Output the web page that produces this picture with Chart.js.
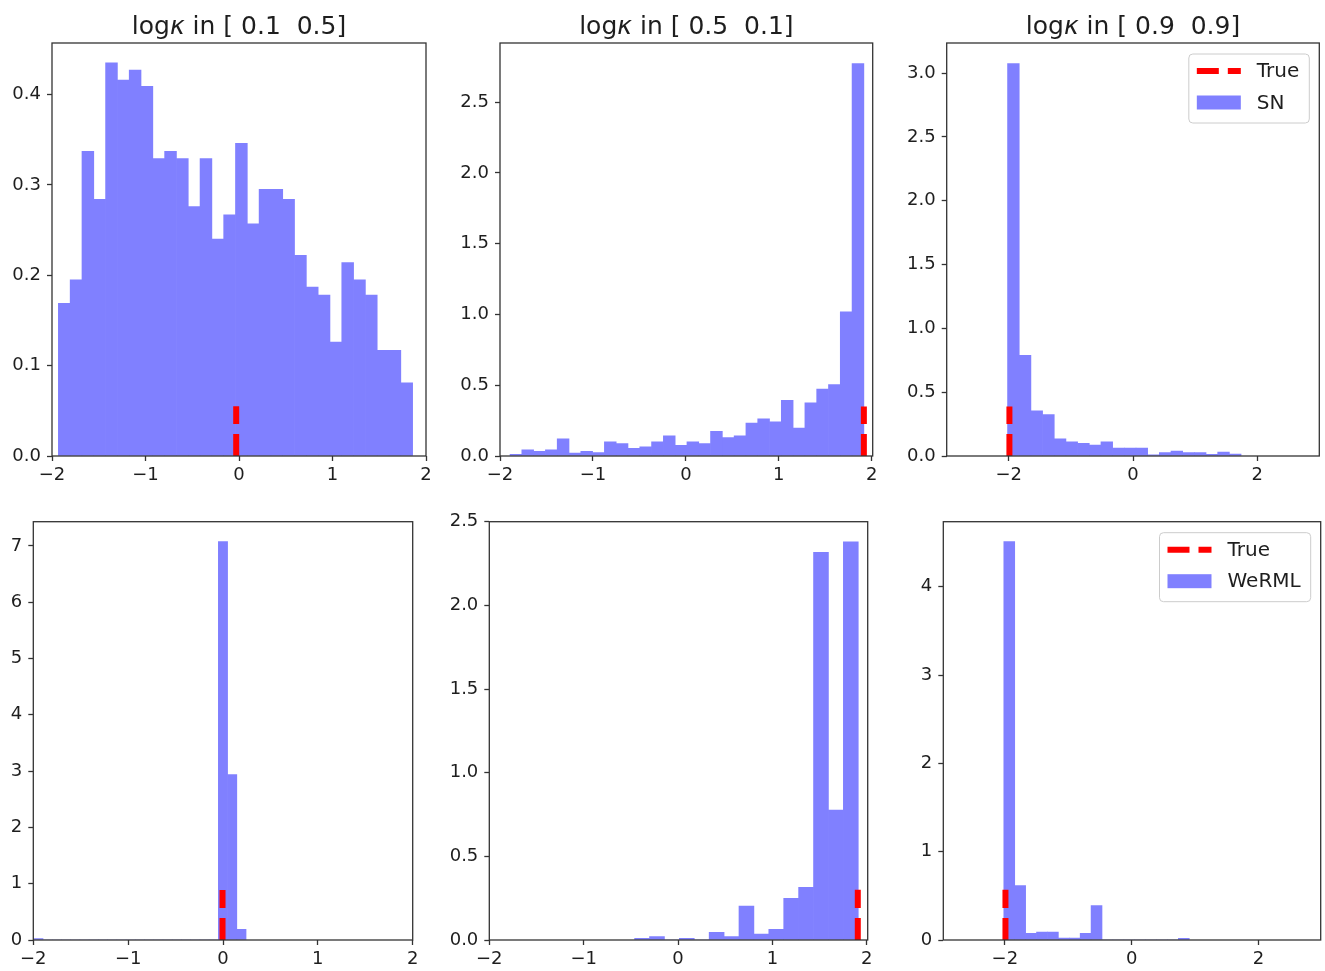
<!DOCTYPE html>
<html>
<head>
<meta charset="utf-8">
<script src="https://cdn.jsdelivr.net/npm/chart.js@4.4.0/dist/chart.umd.min.js"></script>
<style>
  html, body { margin: 0; padding: 0; background: #fff; }
  #wrap { position: relative; width: 1325px; height: 971px; overflow: hidden; }
  #wrap canvas { position: absolute; }
</style>
</head>
<body>
<div id="wrap"></div>
<script>
// histogram densities, one value per bin
const snA = [0.169, 0.195, 0.337, 0.284, 0.435, 0.416, 0.427, 0.409, 0.329, 0.337,
             0.329, 0.276, 0.329, 0.240, 0.267, 0.346, 0.257, 0.295, 0.295, 0.284,
             0.222, 0.187, 0.178, 0.126, 0.214, 0.195, 0.178, 0.117, 0.117, 0.081];
const snB = [0.012, 0.043, 0.033, 0.043, 0.121, 0.021, 0.033, 0.024, 0.100, 0.088,
             0.055, 0.064, 0.100, 0.142, 0.076, 0.100, 0.088, 0.175, 0.130, 0.142,
             0.232, 0.263, 0.242, 0.394, 0.197, 0.375, 0.472, 0.505, 1.018, 2.771];
const snC = [3.073, 0.789, 0.353, 0.324, 0.135, 0.111, 0.099, 0.086, 0.111, 0.062,
             0.062, 0.062, 0.010, 0.026, 0.039, 0.026, 0.026, 0.013, 0.030, 0.015];
const wermlA = [0.024, 0, 0, 0, 0, 0, 0, 0, 0, 0, 0, 0, 0, 0, 0, 0, 0, 0, 0, 0,
                7.077, 2.94, 0.19];
const wermlB = [0.010, 0.020, 0, 0.010, 0, 0.046, 0.020, 0.203, 0.036, 0.064,
                0.249, 0.315, 2.317, 0.777, 2.380];
const wermlC = [4.51, 0.615, 0.075, 0.09, 0.09, 0.023, 0.023, 0.075, 0.389,
                0, 0, 0, 0, 0, 0, 0, 0.019];

// left edge of the first bin and bin width for each panel
const binStarts = [-1.932, -1.892, -2.02, -1.995, -0.46, -2.016];
const binWidths = [0.1263, 0.1269, 0.188, 0.0973, 0.158, 0.172];

// true value lines
const trueValues = [-0.03, 1.915, -1.99, -0.005, 1.905, -1.99];
const trueLineTops = [0.055, 0.35, 0.388, 0.89, 0.30, 0.568];

const titleRanges = ['[ 0.1  0.5]', '[ 0.5  0.1]', '[ 0.9  0.9]'];

// tick labels
const xTicksFine = [-2, -1, 0, 1, 2];
const xTicksCoarse = [-2, 0, 2];
const yTicksA = [0, 0.1, 0.2, 0.3, 0.4];
const yTicksB = [0, 0.5, 1.0, 1.5, 2.0, 2.5];
const yTicksC = [0, 0.5, 1.0, 1.5, 2.0, 2.5, 3.0];
const yTicksD = [0, 1, 2, 3, 4, 5, 6, 7];
const yTicksE = [0, 1, 2, 3, 4];

const BLUE = '#8080ff';
const INK = '#1e1e1e';

// axes boxes [left, top, width, height] in page pixels
const panels = [
  { box: [52, 43, 374, 413], row: 0, xlim: [-2, 2], ylim: [0, 0.457], vals: snA, name: 'SN',
    xt: xTicksFine, yt: yTicksA, dec: 1, title: titleRanges[0], legend: false },
  { box: [500, 43, 372.7, 413], row: 0, xlim: [-2, 2.01], ylim: [0, 2.917], vals: snB, name: 'SN',
    xt: xTicksFine, yt: yTicksB, dec: 1, title: titleRanges[1], legend: false },
  { box: [946.7, 43, 372.6, 413], row: 0, xlim: [-3, 3], ylim: [0, 3.235], vals: snC, name: 'SN',
    xt: xTicksCoarse, yt: yTicksC, dec: 1, title: titleRanges[2], legend: true },
  { box: [33.3, 521.7, 379.4, 418.3], row: 1, xlim: [-2, 2], ylim: [0, 7.43], vals: wermlA, name: 'WeRML',
    xt: xTicksFine, yt: yTicksD, dec: 0, title: null, legend: false },
  { box: [489.3, 521.7, 378.4, 418.3], row: 1, xlim: [-2, 2.01], ylim: [0, 2.5], vals: wermlB, name: 'WeRML',
    xt: xTicksFine, yt: yTicksB, dec: 1, title: null, legend: false },
  { box: [943.3, 521.7, 377.4, 418.3], row: 1, xlim: [-2.97, 2.98], ylim: [0, 4.736], vals: wermlC, name: 'WeRML',
    xt: xTicksCoarse, yt: yTicksE, dec: 0, title: null, legend: true }
];

Chart.defaults.font.family = '"DejaVu Sans", sans-serif';
Chart.defaults.font.size = 18;
Chart.defaults.color = INK;

function fmt(v, dec) {
  const s = Math.abs(v).toFixed(dec);
  return v < 0 ? '\u2212' + s : s;
}

// frame, title and legend
const decor = {
  id: 'decor',
  afterDraw(chart, args, o) {
    const { ctx, chartArea: a } = chart;
    ctx.save();
    ctx.strokeStyle = '#333';
    ctx.lineWidth = 1.3;
    ctx.strokeRect(a.left, a.top, a.right - a.left, a.bottom - a.top);

    if (o.title) {
      const parts = [['log', ''], ['\u03ba', 'oblique '], [' in ' + o.title, '']];
      let total = 0;
      parts.forEach(p => {
        ctx.font = p[1] + '25px "DejaVu Sans"';
        p.push(ctx.measureText(p[0]).width);
        total += p[2];
      });
      let x = (a.left + a.right) / 2 - total / 2;
      ctx.fillStyle = INK;
      ctx.textAlign = 'left';
      ctx.textBaseline = 'alphabetic';
      parts.forEach(p => {
        ctx.font = p[1] + '25px "DejaVu Sans"';
        ctx.fillText(p[0], x, a.top - 9);
        x += p[2];
      });
    }

    if (o.legend) {
      const ds = chart.data.datasets;
      ctx.font = '20px "DejaVu Sans"';
      const tw = Math.max(...ds.map(d => ctx.measureText(d.label).width));
      const w = 8 + 44 + 16 + tw + 10, h = 69;
      const bx = a.right - 10 - w, by = a.top + 11;
      ctx.beginPath();
      ctx.roundRect(bx, by, w, h, 4);
      ctx.fillStyle = 'rgba(255,255,255,0.8)';
      ctx.fill();
      ctx.strokeStyle = '#cccccc';
      ctx.lineWidth = 1;
      ctx.stroke();
      ds.forEach((d, i) => {
        const cy = by + 17 + i * 31.5;
        if (d.type === 'line') {
          ctx.strokeStyle = d.borderColor;
          ctx.lineWidth = d.borderWidth;
          ctx.setLineDash([22, 9]);
          ctx.beginPath();
          ctx.moveTo(bx + 8, cy);
          ctx.lineTo(bx + 52, cy);
          ctx.stroke();
          ctx.setLineDash([]);
        } else {
          ctx.fillStyle = d.backgroundColor;
          ctx.fillRect(bx + 8, cy - 7, 44, 14);
        }
        ctx.fillStyle = INK;
        ctx.textAlign = 'left';
        ctx.textBaseline = 'middle';
        ctx.fillText(d.label, bx + 68, cy + 1);
      });
    }
    ctx.restore();
  }
};

const wrap = document.getElementById('wrap');

panels.forEach((p, k) => {
  const [l, t, w, h] = p.box;
  const cLeft = Math.max(0, Math.floor(l - 60));
  const cTop = p.row === 0 ? 0 : 478;
  const yW = l - cLeft;
  const padTop = t - cTop;
  const cW = Math.ceil(yW + w + 20);
  const cH = Math.ceil(padTop + h + 40);
  const padRight = cW - yW - w;
  const xH = cH - padTop - h;

  const cv = document.createElement('canvas');
  cv.width = cW;
  cv.height = cH;
  cv.style.left = cLeft + 'px';
  cv.style.top = cTop + 'px';
  wrap.appendChild(cv);

  const start = binStarts[k], bw = binWidths[k];
  const bars = p.vals.map((v, i) => ({ x: start + (i + 0.5) * bw, y: v }));
  const tv = trueValues[k];

  new Chart(cv.getContext('2d'), {
    type: 'bar',
    data: {
      datasets: [
        {
          type: 'line', label: 'True',
          data: [{ x: tv, y: 0 }, { x: tv, y: trueLineTops[k] }],
          borderColor: '#ff0000', borderWidth: 6, borderDash: [22, 10],
          borderCapStyle: 'butt', pointRadius: 0, fill: false, order: 0
        },
        {
          type: 'bar', label: p.name, data: bars,
          backgroundColor: BLUE, borderWidth: 0,
          barPercentage: 1, categoryPercentage: 1, order: 1
        }
      ]
    },
    options: {
      responsive: false,
      animation: false,
      events: [],
      layout: { padding: { left: 0, top: padTop, right: padRight, bottom: 0 } },
      plugins: {
        legend: { display: false },
        tooltip: { enabled: false },
        decor: { title: p.title, legend: p.legend }
      },
      scales: {
        x: {
          type: 'linear', min: p.xlim[0], max: p.xlim[1], offset: false,
          border: { display: false },
          grid: { offset: false, drawOnChartArea: false, drawTicks: true, tickLength: 5, tickColor: '#333', tickWidth: 1.3 },
          ticks: { padding: 4, maxRotation: 0, callback: v => fmt(v, 0) },
          afterBuildTicks: s => { s.ticks = p.xt.map(v => ({ value: v })); },
          afterFit: s => { s.height = xH; }
        },
        y: {
          min: p.ylim[0], max: p.ylim[1],
          border: { display: false },
          grid: { drawOnChartArea: false, drawTicks: true, tickLength: 5, tickColor: '#333', tickWidth: 1.3 },
          ticks: { padding: 6, callback: v => fmt(v, p.dec) },
          afterBuildTicks: s => { s.ticks = p.yt.map(v => ({ value: v })); },
          afterFit: s => { s.width = yW; }
        }
      }
    },
    plugins: [decor]
  });
});
</script>
</body>
</html>
